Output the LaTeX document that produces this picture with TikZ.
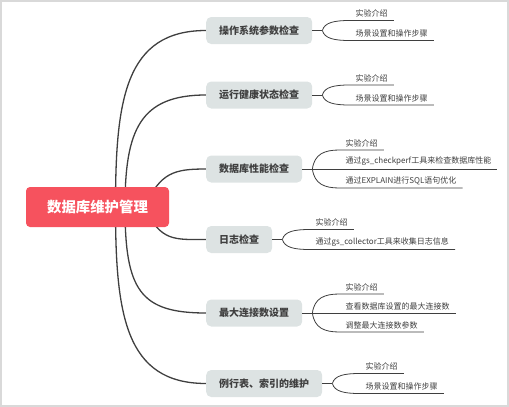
\documentclass[tikz,border=0pt]{standalone}
\usepackage{fontspec}
\setmainfont{Noto Sans CJK SC}
\usepackage{tikz}
\usetikzlibrary{backgrounds}
\usetikzlibrary{calc}
\definecolor{rootred}{HTML}{F6525E}
\definecolor{topicgray}{HTML}{DDE3E3}
\definecolor{inkgray}{HTML}{3F3F3F}
\definecolor{framegray}{HTML}{D9D9D9}

\begin{document}
\begin{tikzpicture}[x=1pt,y=-1pt,
	root/.style={fill=rootred,rounded corners=4pt,text=white,font=\bfseries\fontsize{14.4}{16}\selectfont,minimum width=143pt,minimum height=40pt,inner sep=0pt},
	topic/.style={fill=topicgray,rounded corners=5pt,text=inkgray,font=\bfseries\fontsize{10}{12}\selectfont,minimum height=27pt,inner xsep=13pt,inner ysep=0pt,anchor=west},
	leaf/.style={anchor=south west,inner xsep=6pt,inner ysep=3pt,text=inkgray,font=\fontsize{8}{9}\selectfont},
	trunk/.style={draw=inkgray,line width=1.3pt},
	twig/.style={draw=inkgray,line width=0.8pt}]
\useasboundingbox (0,0) rectangle (509,407);
\draw[framegray,line width=2pt] (1,1) rectangle (508,406);

\node[root] (root) at (97.5,207) {数据库维护管理};
\node[topic] (b1) at (206,30.5) {操作系统参数检查};
\node[topic] (b2) at (206,95) {运行健康状态检查};
\node[topic] (b3) at (206,169) {数据库性能检查};
\node[topic] (b4) at (206,239.5) {日志检查};
\node[topic] (b5) at (206,313) {最大连接数设置};
\node[topic] (b6) at (206,383.5) {例行表、索引的维护};

\coordinate (f1) at ([xshift=10]b1.east);
\coordinate (f2) at ([xshift=10]b2.east);
\coordinate (f3) at ([xshift=10]b3.east);
\coordinate (f4) at ([xshift=10]b4.east);
\coordinate (f5) at ([xshift=10]b5.east);
\coordinate (f6) at ([xshift=10]b6.east);

\node[leaf] (l11) at ([shift={(27,-10)}]f1) {实验介绍};
\node[leaf] (l12) at ([shift={(27,10)}]f1) {场景设置和操作步骤};
\node[leaf] (l21) at ([shift={(27,-10)}]f2) {实验介绍};
\node[leaf] (l22) at ([shift={(27,10)}]f2) {场景设置和操作步骤};
\node[leaf] (l31) at ([shift={(27,-19)}]f3) {实验介绍};
\node[leaf] (l32) at ([shift={(27,0)}]f3) {通过gs\_checkperf工具来检查数据库性能};
\node[leaf] (l33) at ([shift={(27,19)}]f3) {通过EXPLAIN进行SQL语句优化};
\node[leaf] (l41) at ([shift={(27,-10)}]f4) {实验介绍};
\node[leaf] (l42) at ([shift={(27,10)}]f4) {通过gs\_collector工具来收集日志信息};
\node[leaf] (l51) at ([shift={(27,-19)}]f5) {实验介绍};
\node[leaf] (l52) at ([shift={(27,0)}]f5) {查看数据库设置的最大连接数};
\node[leaf] (l53) at ([shift={(27,19)}]f5) {调整最大连接数参数};
\node[leaf] (l61) at ([shift={(27,-10)}]f6) {实验介绍};
\node[leaf] (l62) at ([shift={(27,10)}]f6) {场景设置和操作步骤};

\begin{scope}[on background layer]
\draw[trunk] ([xshift=18]root.center) .. controls +(0,-107) and +(-81,0) .. (b1.west);
\draw[trunk] ([xshift=27.5]root.center) .. controls +(0,-77) and +(-66,0) .. (b2.west);
\draw[trunk] ([xshift=47.5]root.center) .. controls +(15,-35) and +(-31,0) .. (b3.west);
\draw[trunk] ([xshift=47.5]root.center) .. controls +(15,35) and +(-31,0) .. (b4.west);
\draw[trunk] ([xshift=27.5]root.center) .. controls +(0,83) and +(-66,0) .. (b5.west);
\draw[trunk] ([xshift=18]root.center) .. controls +(0,107) and +(-81,0) .. (b6.west);
\end{scope}

\draw[twig] (b1.east) -- (f1);
\draw[twig] (f1) .. controls +(2,-8) and +(-15,0) .. (l11.south west) -- (l11.south east);
\draw[twig] (f1) .. controls +(2,8) and +(-15,0) .. (l12.south west) -- (l12.south east);
\draw[twig] (b2.east) -- (f2);
\draw[twig] (f2) .. controls +(2,-8) and +(-15,0) .. (l21.south west) -- (l21.south east);
\draw[twig] (f2) .. controls +(2,8) and +(-15,0) .. (l22.south west) -- (l22.south east);
\draw[twig] (b3.east) -- (l32.south east);
\draw[twig] (f3) .. controls +(2,-15) and +(-15,0) .. (l31.south west) -- (l31.south east);
\draw[twig] (f3) .. controls +(2,15) and +(-15,0) .. (l33.south west) -- (l33.south east);
\draw[twig] (b4.east) -- (f4);
\draw[twig] (f4) .. controls +(2,-8) and +(-15,0) .. (l41.south west) -- (l41.south east);
\draw[twig] (f4) .. controls +(2,8) and +(-15,0) .. (l42.south west) -- (l42.south east);
\draw[twig] (b5.east) -- (l52.south east);
\draw[twig] (f5) .. controls +(2,-15) and +(-15,0) .. (l51.south west) -- (l51.south east);
\draw[twig] (f5) .. controls +(2,15) and +(-15,0) .. (l53.south west) -- (l53.south east);
\draw[twig] (b6.east) -- (f6);
\draw[twig] (f6) .. controls +(2,-8) and +(-15,0) .. (l61.south west) -- (l61.south east);
\draw[twig] (f6) .. controls +(2,8) and +(-15,0) .. (l62.south west) -- (l62.south east);
\end{tikzpicture}
\end{document}
